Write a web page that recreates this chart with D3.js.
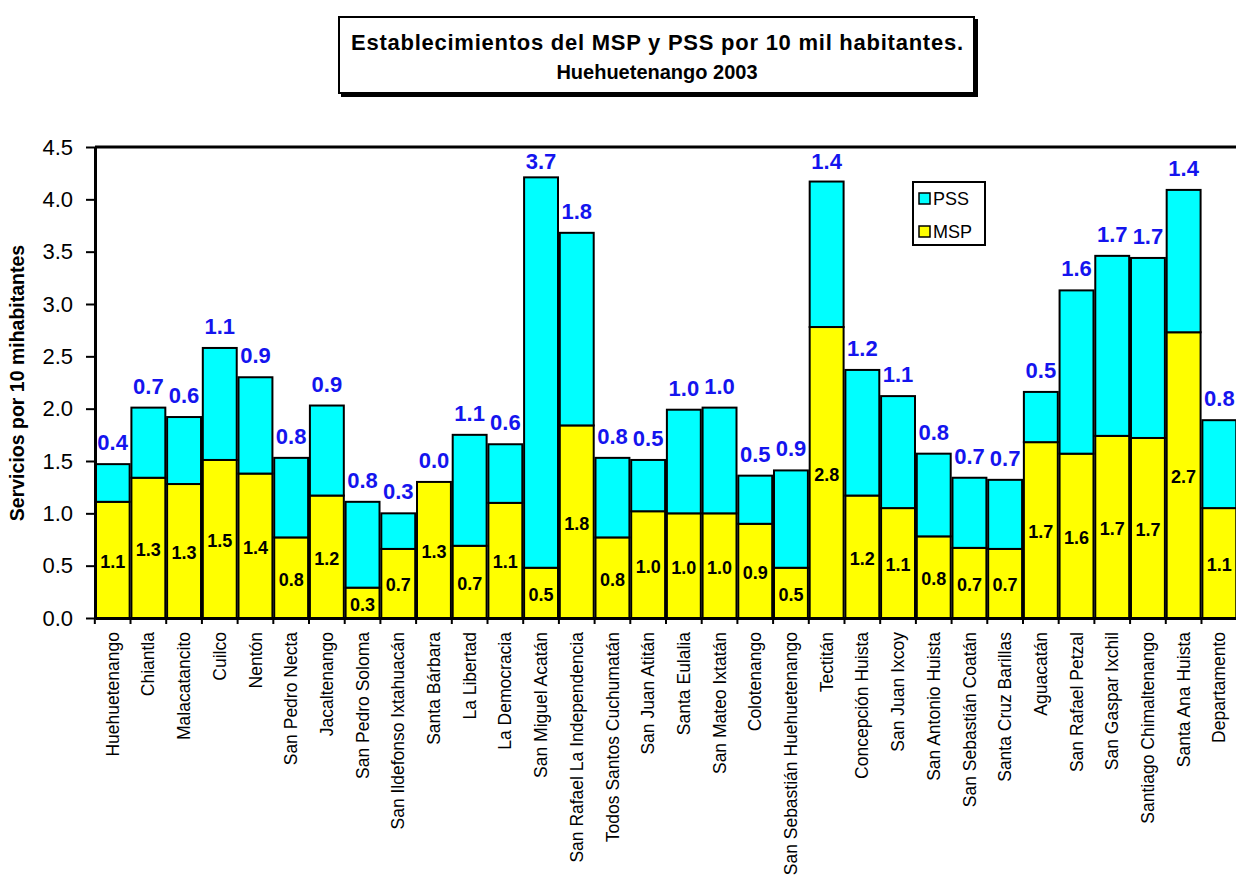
<!DOCTYPE html>
<html>
<head>
<meta charset="utf-8">
<script src="https://cdn.jsdelivr.net/npm/d3@7"></script>
<style>
  body { margin: 0; background: #fff; }
  svg { display: block; font-family: Arial, "Liberation Sans", sans-serif; }
</style>
</head>
<body>
<svg id="chart" width="1236" height="891"></svg>
<script>
// municipios, in chart order
var municipios = ['Huehuetenango','Chiantla','Malacatancito','Cuilco','Nentón','San Pedro Necta',
  'Jacaltenango','San Pedro Soloma','San Ildefonso Ixtahuacán','Santa Bárbara','La Libertad',
  'La Democracia','San Miguel Acatán','San Rafael La Independencia','Todos Santos Cuchumatán',
  'San Juan Atitán','Santa Eulalia','San Mateo Ixtatán','Colotenango','San Sebastián Huehuetenango',
  'Tectitán','Concepción Huista','San Juan Ixcoy','San Antonio Huista','San Sebastián Coatán',
  'Santa Cruz Barillas','Aguacatán','San Rafael Petzal','San Gaspar Ixchil','Santiago Chimaltenango',
  'Santa Ana Huista','Departamento'];

// establecimientos MSP por 10 mil hab.
var msp = [1.11,1.34,1.28,1.51,1.38,0.77,1.17,0.29,0.66,1.30,0.69,1.10,0.48,1.84,0.77,1.02,
  1.00,1.00,0.90,0.48,2.78,1.17,1.05,0.78,0.67,0.66,1.68,1.57,1.74,1.72,2.73,1.05];

// PSS por 10 mil hab.
var pss = [0.36,0.67,0.64,1.07,0.92,0.76,0.86,0.82,0.34,0.00,1.06,0.56,3.73,1.84,0.76,0.49,
  0.99,1.01,0.46,0.93,1.39,1.20,1.07,0.79,0.67,0.66,0.48,1.56,1.72,1.72,1.36,0.84];

var yTicks = [0,0.5,1,1.5,2,2.5,3,3.5,4,4.5];

var svg = d3.select('#chart');
var fmt = d3.format('.1f');

var plotLeft = 95, plotRight = 1237, plotTop = 147, plotBottom = 618;

var x = d3.scaleBand().domain(municipios).range([plotLeft, plotRight]).paddingInner(0.05).paddingOuter(0.02);
var y = d3.scaleLinear().domain([0, 4.5]).range([plotBottom, plotTop]);

var data = municipios.map(function(m, i) { return { name: m, msp: msp[i], pss: pss[i] }; });

// title box (with shadow)
var tb = svg.append('g');
tb.append('rect').attr('x', 341).attr('y', 19).attr('width', 637).attr('height', 78).attr('fill', '#000');
tb.append('rect').attr('x', 339).attr('y', 17).attr('width', 635).attr('height', 76)
  .attr('fill', '#fff').attr('stroke', '#000').attr('stroke-width', 2);
tb.append('text').attr('x', 657).attr('y', 50).attr('text-anchor', 'middle')
  .attr('font-size', 22).attr('font-weight', 'bold')
  .attr('textLength', 612).attr('lengthAdjust', 'spacing')
  .text('Establecimientos del MSP y PSS por 10 mil habitantes.');
tb.append('text').attr('x', 657).attr('y', 79).attr('text-anchor', 'middle')
  .attr('font-size', 20).attr('font-weight', 'bold')
  .text('Huehuetenango 2003');

// bars
var bars = svg.append('g').selectAll('g').data(data).enter().append('g');

bars.append('rect')
  .attr('x', d => x(d.name)).attr('width', x.bandwidth())
  .attr('y', d => y(d.msp)).attr('height', d => y(0) - y(d.msp))
  .attr('fill', '#ffff00').attr('stroke', '#000').attr('stroke-width', 2);

bars.filter(d => d.pss > 0).append('rect')
  .attr('x', d => x(d.name)).attr('width', x.bandwidth())
  .attr('y', d => y(d.msp + d.pss)).attr('height', d => y(d.msp) - y(d.msp + d.pss))
  .attr('fill', '#00ffff').attr('stroke', '#000').attr('stroke-width', 2);

// MSP value, centred in the yellow part
bars.append('text')
  .attr('x', d => x(d.name) + x.bandwidth() / 2)
  .attr('y', d => (y(0) + y(d.msp)) / 2 + 8)
  .attr('text-anchor', 'middle').attr('font-size', 18).attr('font-weight', 'bold')
  .text(d => fmt(d.msp));

// frame top
svg.append('line').attr('x1', plotLeft).attr('x2', plotRight).attr('y1', plotTop).attr('y2', plotTop)
  .attr('stroke', '#000').attr('stroke-width', 3);

// PSS value above the bar, kept inside the frame
svg.append('g').selectAll('text').data(data).enter().append('text')
  .attr('x', d => x(d.name) + x.bandwidth() / 2)
  .attr('y', d => Math.max(y(d.msp + d.pss) - 14, plotTop + 22))
  .attr('text-anchor', 'middle').attr('font-size', 22).attr('font-weight', 'bold')
  .attr('fill', '#1414ee')
  .text(d => fmt(d.pss));

// y axis
var yAxis = svg.append('g').attr('transform', 'translate(' + plotLeft + ',0)')
  .call(d3.axisLeft(y).tickValues(yTicks).tickFormat(fmt).tickSize(9).tickPadding(13).tickSizeOuter(0));
yAxis.select('.domain').attr('stroke-width', 3);
yAxis.selectAll('.tick line').attr('stroke-width', 2);
yAxis.selectAll('.tick text').attr('font-size', 22).attr('font-family', 'Arial, "Liberation Sans", sans-serif').attr('fill', '#000');

// x axis
var xAxis = svg.append('g').attr('transform', 'translate(0,' + plotBottom + ')')
  .call(d3.axisBottom(x).tickSize(0).tickSizeOuter(0));
xAxis.select('.domain').attr('stroke-width', 3);
xAxis.selectAll('.tick text')
  .attr('font-size', 17.5).attr('font-family', 'Arial, "Liberation Sans", sans-serif').attr('fill', '#000')
  .attr('text-anchor', 'end').attr('dy', '0.35em')
  .attr('transform', 'translate(0,14) rotate(-90)').attr('x', 0).attr('y', 0);

// tick marks at the category borders
var step = x.step();
var edges = municipios.map(m => x(m) - (step - x.bandwidth()) / 2).concat([plotRight]);
svg.append('g').selectAll('line').data(edges).enter().append('line')
  .attr('x1', d => d).attr('x2', d => d).attr('y1', plotBottom).attr('y2', plotBottom + 6)
  .attr('stroke', '#000').attr('stroke-width', 2);

// y title
svg.append('text').attr('transform', 'translate(24,383) rotate(-90)')
  .attr('text-anchor', 'middle').attr('font-size', 19.5).attr('font-weight', 'bold')
  .text('Servicios por 10 mihabitantes');

// legend
var lg = svg.append('g');
lg.append('rect').attr('x', 913).attr('y', 182).attr('width', 72).attr('height', 63)
  .attr('fill', '#fff').attr('stroke', '#000').attr('stroke-width', 2);
var items = [{ k: 'PSS', c: '#00ffff' }, { k: 'MSP', c: '#ffff00' }];
items.forEach(function(it, i) {
  lg.append('rect').attr('x', 919).attr('y', 193 + i * 33).attr('width', 11).attr('height', 11)
    .attr('fill', it.c).attr('stroke', '#000').attr('stroke-width', 1.5);
  lg.append('text').attr('x', 933).attr('y', 205 + i * 33).attr('font-size', 18).text(it.k);
});
</script>
</body>
</html>
